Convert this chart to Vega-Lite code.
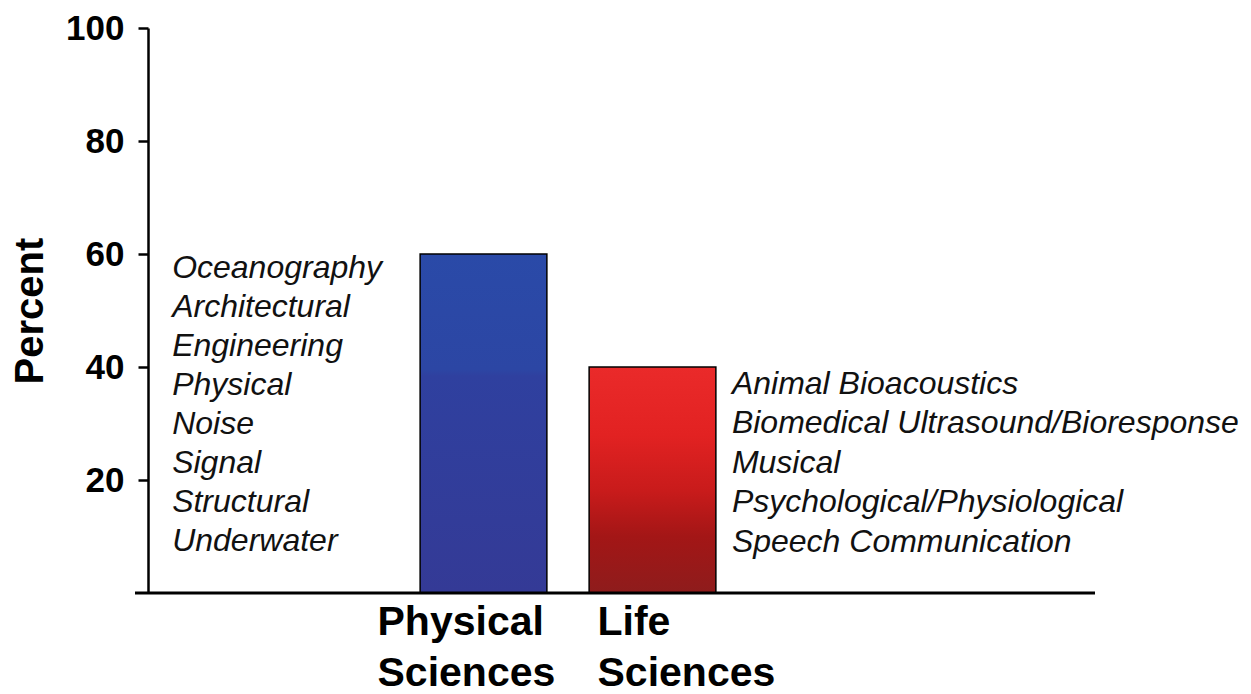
{
  "$schema": "https://vega.github.io/schema/vega-lite/v6.json",
  "width": 960,
  "height": 565,
  "autosize": {"type": "none"},
  "padding": {"left": 135, "top": 28, "right": 156, "bottom": 101},
  "background": "white",
  "config": {"view": {"stroke": null}, "font": "Liberation Sans"},
  "data": {"values": [
    {"field": "Physical Sciences", "percent": 60},
    {"field": "Life Sciences", "percent": 40}
  ]},
  "layer": [
    {
      "mark": {"type": "bar", "stroke": "black", "strokeWidth": 1.5},
      "encoding": {
        "x": {
          "field": "field", "type": "nominal", "sort": null,
          "scale": {"domain": ["Physical Sciences", "Life Sciences"], "range": [264, 602], "paddingInner": 0.25, "paddingOuter": 0.125},
          "axis": {
            "title": null, "domain": false, "ticks": false,
            "labelExpr": "split(datum.label, ' ')",
            "labelFont": "Liberation Sans", "labelFontSize": 41, "labelFontWeight": "bold", "labelColor": "black",
            "labelAlign": "left", "labelBaseline": "top", "labelPadding": 9, "labelLineHeight": 51,
            "labelOffset": {"condition": {"test": "datum.value === 'Physical Sciences'", "value": -106}, "value": -55},
            "labelAngle": 0, "labelLimit": 0
          }
        },
        "y": {
          "field": "percent", "type": "quantitative",
          "scale": {"domain": [0, 100]},
          "axis": {
            "title": "Percent", "values": [20, 40, 60, 80, 100], "offset": -13, "grid": false,
            "domainColor": "black", "domainWidth": 2.5, "tickColor": "black", "tickWidth": 2.5, "tickSize": 10,
            "labelFont": "Liberation Sans", "labelFontSize": 35, "labelFontWeight": "bold", "labelColor": "black", "labelPadding": 14,
            "titleFont": "Liberation Sans", "titleFontSize": 40, "titleFontWeight": "bold", "titleColor": "black", "titlePadding": 15
          }
        },
        "fill": {
          "condition": {
            "test": "datum.field === 'Life Sciences'",
            "value": {"gradient": "linear", "x1": 0, "y1": 0, "x2": 0, "y2": 1, "stops": [
              {"offset": 0, "color": "#ea2a2a"},
              {"offset": 0.3, "color": "#e22222"},
              {"offset": 0.55, "color": "#c81b1b"},
              {"offset": 0.75, "color": "#a31616"},
              {"offset": 1, "color": "#8e1c1c"}
            ]}
          },
          "value": {"gradient": "linear", "x1": 0, "y1": 0, "x2": 0, "y2": 1, "stops": [
            {"offset": 0, "color": "#2a4aa8"},
            {"offset": 0.34, "color": "#2c46a4"},
            {"offset": 0.36, "color": "#2f409f"},
            {"offset": 1, "color": "#343a96"}
          ]}
        }
      }
    },
    {
      "transform": [{"filter": "datum.field === 'Physical Sciences'"}],
      "mark": {"type": "rule", "color": "black", "strokeWidth": 3},
      "encoding": {"y": {"datum": 0}}
    },
    {
      "transform": [{"filter": "datum.field === 'Physical Sciences'"}],
      "mark": {"type": "text", "align": "left", "baseline": "middle", "dx": -248, "font": "Liberation Sans", "fontSize": 32, "fontStyle": "italic", "color": "#111111", "lineHeight": 39},
      "encoding": {
        "x": {"field": "field", "type": "nominal", "bandPosition": 0},
        "y": {"datum": 57.5},
        "text": {"value": ["Oceanography", "Architectural", "Engineering", "Physical", "Noise", "Signal", "Structural", "Underwater"]}
      }
    },
    {
      "transform": [{"filter": "datum.field === 'Life Sciences'"}],
      "mark": {"type": "text", "align": "left", "baseline": "middle", "dx": 16, "font": "Liberation Sans", "fontSize": 32, "fontStyle": "italic", "color": "#111111", "lineHeight": 39.5},
      "encoding": {
        "x": {"field": "field", "type": "nominal", "bandPosition": 1},
        "y": {"datum": 37.0},
        "text": {"value": ["Animal Bioacoustics", "Biomedical Ultrasound/Bioresponse", "Musical", "Psychological/Physiological", "Speech Communication"]}
      }
    }
  ]
}
